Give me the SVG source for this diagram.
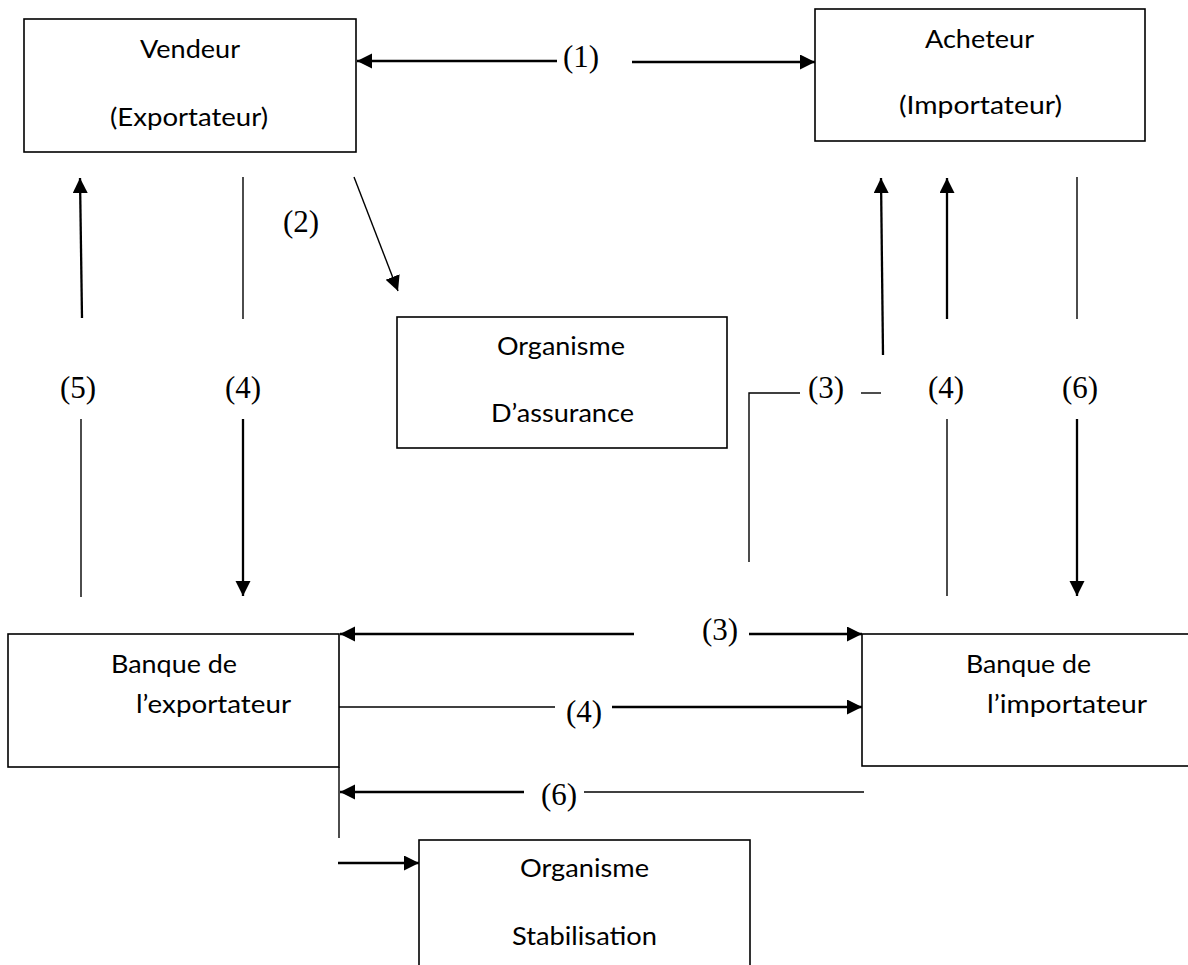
<svg xmlns="http://www.w3.org/2000/svg" width="1188" height="965" viewBox="0 0 1188 965">
<style>
.box{fill:#fff;stroke:#000;stroke-width:1.6}
.t{font-family:Lato,"Open Sans","Liberation Sans",sans-serif;font-size:25px;fill:#000}
.n{font-family:"Liberation Serif","Times New Roman",serif;font-size:31px;fill:#000;text-anchor:middle}
.thin{stroke:#000;stroke-width:1.4;fill:none}
.thick{stroke:#000;stroke-width:2.3;fill:none}
</style>
<defs>
<marker id="ah" markerUnits="userSpaceOnUse" markerWidth="16" markerHeight="16" refX="15" refY="7.5" orient="auto">
<path d="M0,0 L15,7.5 L0,15 z" fill="#000"/>
</marker>
</defs>
<rect width="1188" height="965" fill="#fff"/>
<g id="vendeur">
<rect class="box" x="24" y="19" width="332" height="133"/>
<text class="t" x="140" y="58" textLength="100" lengthAdjust="spacingAndGlyphs">Vendeur</text>
<text class="t" x="110" y="126" textLength="158" lengthAdjust="spacingAndGlyphs">(Exportateur)</text>
</g>
<g id="acheteur">
<rect class="box" x="815" y="9" width="330" height="132"/>
<text class="t" x="925" y="48" textLength="109" lengthAdjust="spacingAndGlyphs">Acheteur</text>
<text class="t" x="899" y="114" textLength="163" lengthAdjust="spacingAndGlyphs">(Importateur)</text>
</g>
<g id="assurance">
<rect class="box" x="397" y="317" width="330" height="131"/>
<text class="t" x="497" y="355" textLength="128" lengthAdjust="spacingAndGlyphs">Organisme</text>
<text class="t" x="491" y="422" textLength="143" lengthAdjust="spacingAndGlyphs">D’assurance</text>
</g>
<g id="banque-exp">
<rect class="box" x="8" y="634" width="331" height="133"/>
<text class="t" x="111" y="673" textLength="126" lengthAdjust="spacingAndGlyphs">Banque de</text>
<text class="t" x="136" y="713" textLength="155" lengthAdjust="spacingAndGlyphs">l’exportateur</text>
</g>
<g id="banque-imp">
<rect class="box" x="862" y="634" width="340" height="132"/>
<text class="t" x="966" y="673" textLength="125" lengthAdjust="spacingAndGlyphs">Banque de</text>
<text class="t" x="987" y="713" textLength="160" lengthAdjust="spacingAndGlyphs">l’importateur</text>
</g>
<g id="stabilisation">
<rect class="box" x="419" y="840" width="331" height="140"/>
<text class="t" x="520" y="877" textLength="129" lengthAdjust="spacingAndGlyphs">Organisme</text>
<text class="t" x="512" y="945" textLength="145" lengthAdjust="spacingAndGlyphs">Stabilisation</text>
</g>
<g id="connectors">
<line class="thick" x1="557" y1="61" x2="357" y2="61" marker-end="url(#ah)"/>
<line class="thick" x1="632" y1="62" x2="815" y2="62" marker-end="url(#ah)"/>
<line class="thick" x1="82" y1="318" x2="80" y2="178" marker-end="url(#ah)"/>
<line class="thin" x1="243" y1="177" x2="243" y2="319"/>
<line class="thin" x1="354" y1="177" x2="398" y2="291" marker-end="url(#ah)"/>
<line class="thick" x1="883" y1="355" x2="881" y2="178" marker-end="url(#ah)"/>
<line class="thick" x1="947" y1="319" x2="947" y2="178" marker-end="url(#ah)"/>
<line class="thin" x1="1077" y1="177" x2="1077" y2="319"/>
<line class="thin" x1="81" y1="419" x2="81" y2="597"/>
<line class="thick" x1="243" y1="419" x2="243" y2="596" marker-end="url(#ah)"/>
<polyline class="thin" points="749,562 749,393 800,393"/>
<line class="thin" x1="861" y1="393" x2="881" y2="393"/>
<line class="thin" x1="947" y1="419" x2="947" y2="596"/>
<line class="thick" x1="1077" y1="419" x2="1077" y2="596" marker-end="url(#ah)"/>
<line class="thick" x1="634" y1="634" x2="340" y2="634" marker-end="url(#ah)"/>
<line class="thick" x1="749" y1="634" x2="862" y2="634" marker-end="url(#ah)"/>
<line class="thin" x1="339" y1="707" x2="555" y2="707"/>
<line class="thick" x1="612" y1="707" x2="862" y2="707" marker-end="url(#ah)"/>
<line class="thin" x1="864" y1="792" x2="584" y2="792"/>
<line class="thick" x1="524" y1="792" x2="340" y2="792" marker-end="url(#ah)"/>
<line class="thin" x1="339" y1="767" x2="339" y2="838"/>
<line class="thick" x1="338" y1="863" x2="419" y2="863" marker-end="url(#ah)"/>
<text class="n" x="581" y="67">(1)</text>
<text class="n" x="301" y="232">(2)</text>
<text class="n" x="78" y="398">(5)</text>
<text class="n" x="243" y="398">(4)</text>
<text class="n" x="826" y="398">(3)</text>
<text class="n" x="946" y="398">(4)</text>
<text class="n" x="1080" y="398">(6)</text>
<text class="n" x="720" y="640">(3)</text>
<text class="n" x="584" y="722">(4)</text>
<text class="n" x="559" y="805">(6)</text>
</g>
</svg>
